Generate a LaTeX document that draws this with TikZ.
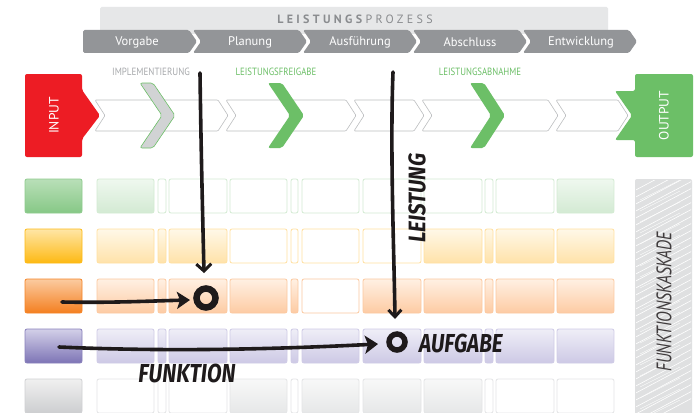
\documentclass[tikz,border=0pt]{standalone}
\usepackage{fontspec}
\setmainfont{PT Sans}
\newfontfamily\handfont{Fira Sans}
\newfontfamily\thinhand{PT Sans}
\usetikzlibrary{arrows.meta}
\definecolor{procgray}{HTML}{939598}
\definecolor{bandgray}{HTML}{E6E7E8}
\definecolor{titlegray}{HTML}{8A8C8F}
\definecolor{labgray}{HTML}{A7A9AC}
\definecolor{okgreen}{HTML}{6CBF67}
\definecolor{inred}{HTML}{ED1C24}
\definecolor{lineg}{HTML}{BCBEC0}
\definecolor{chevgray}{HTML}{D1D3D4}
\definecolor{ink}{HTML}{1E1A1B}
\definecolor{hatchgray}{HTML}{DFE0E1}
\tikzset{
  cellstyle/.style={rounded corners=2pt, line width=0.8pt},
  proc/.style={fill=procgray, rounded corners=1.5pt},
  proctext/.style={text=white, font=\fontsize{12.5}{12.5}\selectfont, inner sep=0pt},
  bandseg/.style={fill=white, draw=lineg, line width=0.6pt, rounded corners=1pt},
  bigchev/.style={rounded corners=2pt, line width=0.6pt},
  toplabel/.style={font=\fontsize{10.5}{10.5}\selectfont, inner sep=0pt},
  inkline/.style={draw=ink, line width=3.6pt, line cap=round, line join=round},
  inkring/.style={draw=ink, circle, inner sep=0pt},
  handtext/.style={text=ink, inner sep=0pt, font=\handfont\bfseries\itshape\fontsize{26}{26}\selectfont},
}
\newcommand\gridrow[8]{%
  \definecolor{gbt}{HTML}{#2}\definecolor{gbb}{HTML}{#3}\definecolor{gbd}{HTML}{#4}%
  \definecolor{gct}{HTML}{#5}\definecolor{gcb}{HTML}{#6}\definecolor{gcd}{HTML}{#7}%
  \draw[rounded corners=2pt, line width=0.8pt, draw=gbd, top color=gbt, bottom color=gbb] (25,#1) rectangle (82,#1+34);
  \foreach \xa/\xb [count=\c] in {97/154,158/166,169/227,230/287,291/298,302/359,363/421,424/482,485/493,496/554,557/614}{
    \pgfmathtruncatemacro\f{{#8}[\c-1]}
    \ifnum\f=1
      \draw[cellstyle, draw=gcd, top color=gct, bottom color=gcb] (\xa,#1) rectangle (\xb,#1+34);
    \else
      \draw[cellstyle, draw=gcd, fill=white] (\xa,#1) rectangle (\xb,#1+34);
    \fi
  }%
}
\begin{document}
\begin{tikzpicture}[x=1pt,y=-1pt]
\useasboundingbox (0,0) rectangle (695,412);
\clip (0,0) rectangle (695,412);
\fill[white] (0,0) rectangle (695,412);

% title band
\fill[bandgray, rounded corners=1.5pt] (100,7) rectangle (608,34);
\node[inner sep=0pt, text=titlegray, font=\fontsize{12}{12}\selectfont\addfontfeatures{LetterSpace=28}] (title) at (355,19.5) {\textbf{LEISTUNGS}PROZESS};

% process chevrons
\fill[proc] (83,30) -- (189,30) -- (197,41.5) -- (189,53) -- (83,53) -- cycle;
\foreach \i in {1,2,3,4}{
  \pgfmathsetmacro\xl{83+110*\i}
  \fill[proc] (\xl,30) -- (\xl+106,30) -- (\xl+114,41.5) -- (\xl+106,53) -- (\xl,53) -- (\xl+8,41.5) -- cycle;
}
\node[proctext] (p1) at (137,42) {Vorgabe};
\node[proctext] (p2) at (250,42) {Planung};
\node[proctext] (p3) at (360,42) {Ausführung};
\node[proctext] (p4) at (470,42) {Abschluss};
\node[proctext] (p5) at (581,42) {Entwicklung};

% chevron band
\draw[bandseg] (95,100) -- (218,100) -- (228,115.5) -- (218,131) -- (95,131) -- (105,115.5) -- cycle;
\draw[bandseg] (226,100) -- (346,100) -- (356,115.5) -- (346,131) -- (226,131) -- (236,115.5) -- cycle;
\draw[bandseg] (354,100) -- (414,100) -- (424,115.5) -- (414,131) -- (354,131) -- (364,115.5) -- cycle;
\draw[bandseg] (422,100) -- (548,100) -- (558,115.5) -- (548,131) -- (422,131) -- (432,115.5) -- cycle;
\draw[bandseg] (556,100) -- (618,100) -- (628,115.5) -- (618,131) -- (556,131) -- (566,115.5) -- cycle;

% big chevrons
\filldraw[bigchev, fill=chevgray, draw=okgreen] (140,83) -- (153,83) -- (175,115.5) -- (153,148) -- (140,148) -- (162,115.5) -- cycle;
\fill[bigchev, okgreen] (268,83) -- (282,83) -- (304,115.5) -- (282,148) -- (268,148) -- (290,115.5) -- cycle;
\fill[bigchev, okgreen] (470,83) -- (484,83) -- (505,115.5) -- (484,148) -- (470,148) -- (491,115.5) -- cycle;

\node[toplabel, text=labgray] (l1) at (151,72) {\scalebox{0.86}[1]{IMPLEMENTIERUNG}};
\node[toplabel, text=okgreen] (l2) at (276,72) {\scalebox{0.84}[1]{LEISTUNGSFREIGABE}};
\node[toplabel, text=okgreen] (l3) at (480,72) {\scalebox{0.84}[1]{LEISTUNGSABNAHME}};

% input / output
\fill[inred, rounded corners=2pt] (25,74) -- (82,74) -- (82,90) -- (100,115.5) -- (82,139) -- (82,157) -- (25,157) -- cycle;
\node[rotate=90, text=white, inner sep=0pt, font=\fontsize{13.5}{13.5}\selectfont] (in) at (54,115.5) {INPUT};
\fill[okgreen, rounded corners=2pt] (635,74) -- (693,74) -- (693,157) -- (635,157) -- (635,140) -- (615,140) -- (632,115.5) -- (615,91) -- (635,91) -- cycle;
\node[rotate=90, text=white, inner sep=0pt, font=\fontsize{13.5}{13.5}\selectfont] (out) at (664,115.5) {OUTPUT};

% grid
\gridrow{179}{B9DFB8}{86C886}{8ECB8D}{EFF8EF}{D3EAD3}{D3EBD2}{1,0,0,0,0,0,0,0,0,0,1}
\gridrow{229}{FFE6A6}{FDB913}{FDBA16}{FFF8E8}{FFE2A9}{FFE0A0}{1,1,1,0,0,0,0,1,1,1,1}
\gridrow{279}{FBCBA0}{F47F20}{F58426}{FFF0E3}{FDCBA3}{FCC9A0}{1,1,1,1,1,0,1,1,1,1,1}
\gridrow{329}{D3D0E8}{7D74B5}{8880BB}{EFEEF7}{CDC9E5}{CFCBE6}{1,1,1,1,1,1,1,1,1,1,1}
\gridrow{379}{F0F0F0}{CDCED0}{D0D1D3}{F8F8F8}{E6E7E8}{E4E5E6}{0,0,0,1,0,1,1,1,0,0,0}

% Funktionskaskade column
\fill[hatchgray, rounded corners=2pt] (635,179) rectangle (692,420);
\begin{scope}
  \clip (636,180) rectangle (691,420);
  \foreach \k in {0,...,34}{
    \draw[white, line width=0.6pt] (632,192+\k*7) -- ++(64,-34);
  }
  \foreach \k in {0,...,20}{
    \draw[white, line width=0.4pt] (640,200+\k*11) -- ++(40,-20);
  }
\end{scope}
\node[rotate=90, text=ink!85, inner sep=0pt, font=\thinhand\itshape\fontsize{21}{21}\selectfont] (fk) at (664,302) {\scalebox{0.76}[1]{FUNKTIONSKASKADE}};

% hand drawn annotations
\coordinate (v1s) at (200,73);
\coordinate (v1e) at (204,273);
\coordinate (h1s) at (62,302);
\coordinate (h1e) at (190,300);
\coordinate (h2s) at (59,347);
\coordinate (h2e) at (378,344);
\coordinate (v2s) at (393,72);
\coordinate (v2e) at (395,319);

\draw[inkline, -{Straight Barb[length=7pt,width=15pt,line width=3pt]}] (v1s) .. controls (201,150) and (203,230) .. (v1e);
\draw[inkline, -{Stealth[length=13pt,width=17pt,inset=3pt]}] (h1s) .. controls (110,303) and (150,301) .. (h1e);
\draw[inkline, -{Stealth[length=13pt,width=18pt,inset=3pt]}] (h2s) .. controls (170,352) and (280,349) .. (h2e);
\draw[inkline, -{Straight Barb[length=7pt,width=13pt,line width=3pt]}] (v2s) .. controls (390,150) and (394,250) .. (v2e);

\node[inkring, line width=6.5pt, minimum size=19pt] (o1) at (206,298) {};
\node[inkring, line width=5.5pt, minimum size=16pt] (o2) at (397,342) {};

\node[handtext, anchor=west] (aufgabe) at (419,343) {\scalebox{0.8}[1]{AUFGABE}};
\node[handtext] (funktion) at (187,373) {\scalebox{0.82}[1]{FUNKTION}};
\node[handtext, rotate=90, font=\handfont\bfseries\itshape\fontsize{24}{24}\selectfont] (leistung) at (417,198) {\scalebox{0.86}[1]{LEISTUNG}};
\end{tikzpicture}
\end{document}
